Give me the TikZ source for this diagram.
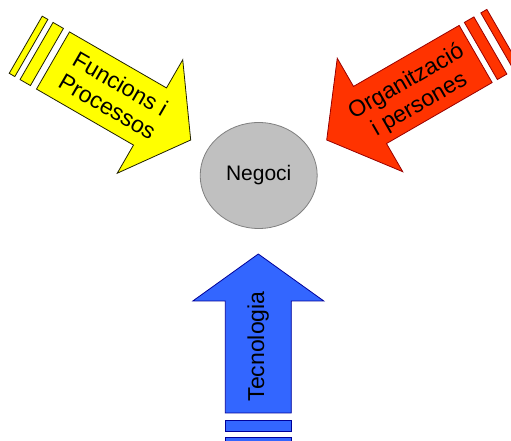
\documentclass[tikz,border=0pt]{standalone}
\usepackage{fontspec}
\setmainfont{Liberation Sans}
\usetikzlibrary{shapes.geometric}

\definecolor{yellowfill}{HTML}{FFFF00}
\definecolor{yellowline}{HTML}{202000}
\definecolor{redfill}{HTML}{FF3300}
\definecolor{redline}{HTML}{990000}
\definecolor{bluefill}{HTML}{3366FF}
\definecolor{blueline}{HTML}{000099}
\definecolor{hubfill}{HTML}{C0C0C0}
\definecolor{hubline}{HTML}{808080}

% Striped block arrow, tip at the local origin, pointing along +x.
% #1 head length, #2 end of shaft, #3/#4 first stripe, #5/#6 second stripe
\newcommand\stripedarrow[6]{%
  \path[arrowpart] (0,0) -- (-#1,65.5) -- (-#1,33) -- (-#2,33)
    -- (-#2,-33) -- (-#1,-33) -- (-#1,-65.5) -- cycle;
  \path[arrowpart] (-#3,-33) rectangle (-#4,33);
  \path[arrowpart] (-#5,-33) rectangle (-#6,33);
}

\tikzset{
  arrowpart/.style={line width=0.8pt, line join=miter},
  arrowtext/.style={font=\fontsize{23}{26}\selectfont, align=center, inner sep=0pt},
  hub/.style={ellipse, fill=hubfill, draw=hubline, line width=0.8pt,
    minimum width=117pt, minimum height=106pt, inner sep=0pt,
    font=\fontsize{21}{24}\selectfont},
}

\begin{document}
\begin{tikzpicture}[x=1pt, y=1pt]
  \useasboundingbox (0,0) rectangle (511,441);
  \fill[white] (0,0) rectangle (511,441);
  \clip (0,0) rectangle (511,441);

  % central business node
  \node[hub] (negoci) at (258.7,265.5) {Negoci};

  % functions and processes
  \begin{scope}[shift={(190.7,301)}, rotate=-30,
      arrowpart/.append style={fill=yellowfill, draw=yellowline}]
    \stripedarrow{47}{159}{166}{178}{184}{190.5}
    \node[arrowtext, rotate=-30] (funcions) at (-89,0.6) {Funcions i\\Processos};
  \end{scope}

  % organisation and people
  \begin{scope}[shift={(326.7,301)}, rotate=210,
      arrowpart/.append style={fill=redfill, draw=redline}]
    \stripedarrow{50}{172}{178}{189}{197}{204}
    \node[arrowtext, rotate=30] (organitzacio) at (-98,3) {Organització\\i persones};
  \end{scope}

  % technology
  \begin{scope}[shift={(258.3,187)}, rotate=90,
      arrowpart/.append style={fill=bluefill, draw=blueline}]
    \stripedarrow{47}{159}{166}{177}{183}{190}
    \node[arrowtext, rotate=90] (tecnologia) at (-92.5,0) {Tecnologia};
  \end{scope}
\end{tikzpicture}
\end{document}
